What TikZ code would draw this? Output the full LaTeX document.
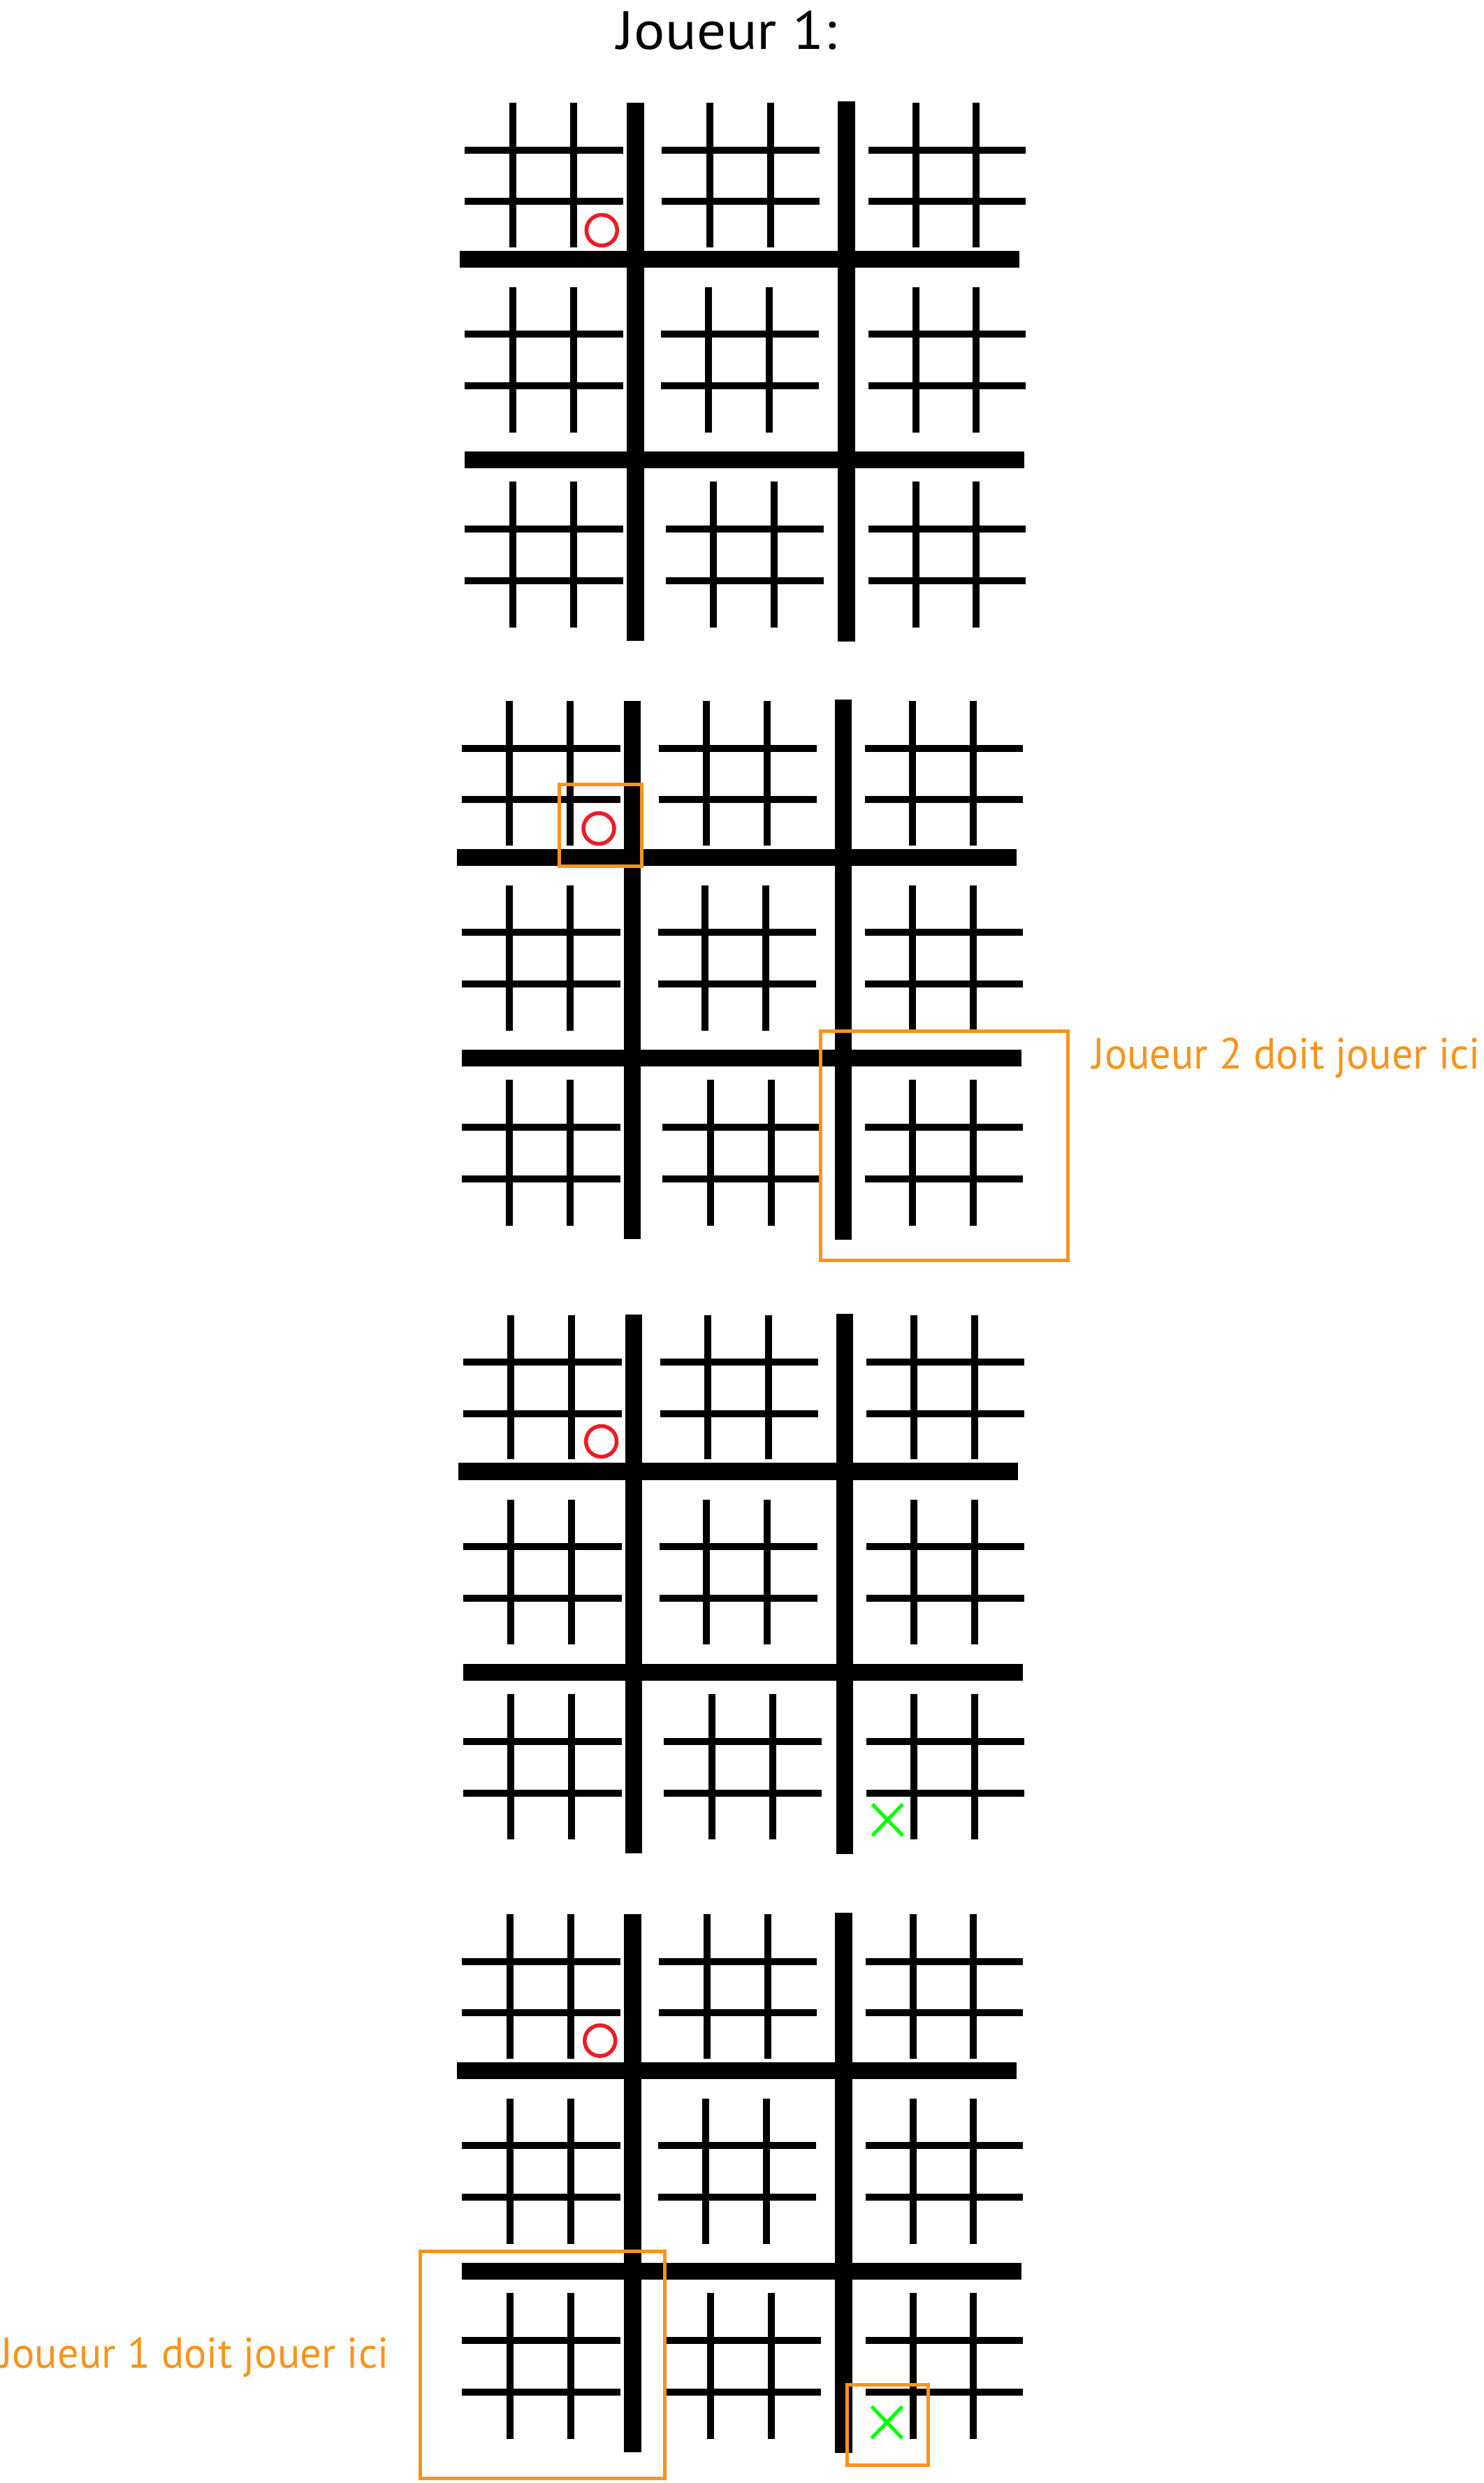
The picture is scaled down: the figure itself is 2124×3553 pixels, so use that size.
\documentclass[tikz,border=0pt]{standalone}
\usepackage{fontspec}
\setmainfont{PT Sans}
\usepackage{graphicx}
\definecolor{mkorange}{HTML}{F7941D}
\definecolor{mkred}{HTML}{ED1C24}
\definecolor{mkgreen}{HTML}{00FF00}
\newlength\fitW
\newlength\fitH
\newcommand\fittext[3]{% #1 ink width (pt), #2 cap height (pt), #3 text
  \settowidth\fitW{#3}\settoheight\fitH{J}%
  \pgfmathsetmacro\fitSX{#1/\fitW}%
  \pgfmathsetmacro\fitSY{#2/\fitH}%
  \scalebox{\fitSX}[\fitSY]{#3}}
% small 3x3 grid: #1,#2 vertical x; #3,#4 horizontal x-range; #5,#6 vertical y-range; #7,#8 horizontal y
\newcommand\smallgrid[8]{%
  \draw[thinline] (#1,#5) -- (#1,#6);
  \draw[thinline] (#2,#5) -- (#2,#6);
  \draw[thinline] (#3,#7) -- (#4,#7);
  \draw[thinline] (#3,#8) -- (#4,#8);}
\newcommand\bigboard[2]{%
\begin{scope}[shift={(#1,#2)}]
  % row 1
  \smallgrid{733.6}{820.8}{665.4}{892}{147}{353.7}{214.6}{288.4}
  \smallgrid{1015.5}{1102.5}{947}{1173}{147}{353.7}{214.6}{288.4}
  \smallgrid{1310.6}{1397}{1242.7}{1468}{147}{353.7}{214.6}{288.4}
  % row 2
  \smallgrid{733.6}{820.8}{665.4}{892}{411}{618.7}{478.4}{552}
  \smallgrid{1013.8}{1100.8}{946}{1172}{411}{618.7}{478.4}{552}
  \smallgrid{1310.6}{1397}{1242.7}{1468}{411}{618.7}{478.4}{552}
  % row 3
  \smallgrid{733.6}{820.8}{665.4}{892}{689.4}{897.5}{757}{831}
  \smallgrid{1021}{1108}{952.7}{1178.8}{689.4}{897.5}{757}{831}
  \smallgrid{1310.6}{1397}{1242.7}{1468}{689.4}{897.5}{757}{831}
  % thick lines
  \draw[thickline] (658,371) -- (1459,371);
  \draw[thickline] (665.4,658.2) -- (1466,658.2);
  \draw[thickline] (909.3,146.9) -- (909.3,917.2);
  \draw[thickline] (1211.4,145) -- (1211.4,918.4);
\end{scope}}
\begin{document}
\begin{tikzpicture}[x=0.5pt,y=-0.5pt,
  thinline/.style={line width=5pt,black},
  thickline/.style={line width=12.2pt,black},
  omark/.style={draw=mkred,line width=2.75pt},
  xmark/.style={draw=mkgreen,line width=2.5pt},
  hintbox/.style={draw=mkorange,line width=2.5pt},
  labeltext/.style={inner sep=0pt,outer sep=0pt,anchor=base west,text=mkorange,font=\fontsize{30}{36}\selectfont},
  titletext/.style={inner sep=0pt,outer sep=0pt,anchor=base west,text=black,font=\fontsize{36}{42}\selectfont}]
\useasboundingbox[fill=white] (0,0) rectangle (2124,3553);

% title
\node[titletext] (title) at (883.7,70.7) {\fittext{157}{27}{Joueur 1:}};

% boards
\bigboard{0}{0}
\bigboard{-4.5}{856}
\bigboard{-2.5}{1734.5}
\bigboard{-4}{2592}

% O marks
\draw[omark] (861.3,329.4) circle[radius=11pt];
\draw[omark] (857,1185.5) circle[radius=11pt];
\draw[omark] (860.6,2062.5) circle[radius=11pt];
\draw[omark] (858.8,2920) circle[radius=11pt];

% X marks
\draw[xmark] (1248.5,2581.6) -- (1292,2626.5) (1248.5,2626.5) -- (1292,2581.6);
\draw[xmark] (1247.5,3443.6) -- (1291.3,3488.8) (1247.5,3488.8) -- (1291.3,3443.6);

% hint boxes
\draw[hintbox] (800,1122.5) rectangle (918,1239.5);
\draw[hintbox] (1174.5,1475.3) rectangle (1528.7,1803);
\draw[hintbox] (601,3221.5) rectangle (951,3546.5);
\draw[hintbox] (1212.5,3412) rectangle (1328.5,3527);

% labels
\node[labeltext] (lab2) at (1563.5,1529) {\fittext{277.7}{21.8}{Joueur 2 doit jouer ici}};
\node[labeltext] (lab1) at (0,3388.7) {\fittext{278.2}{21.5}{Joueur 1 doit jouer ici}};
\end{tikzpicture}
\end{document}
